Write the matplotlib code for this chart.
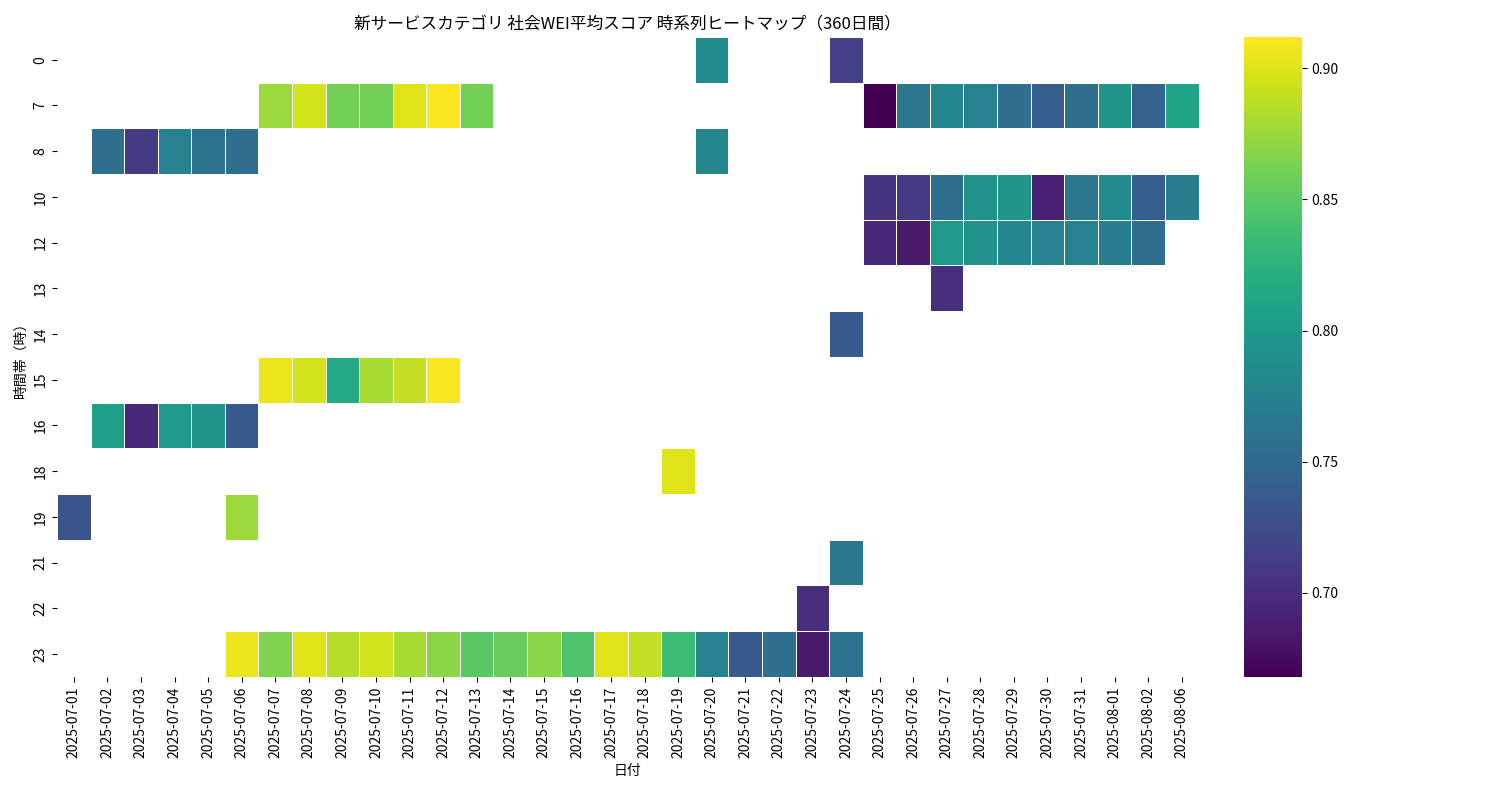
import numpy as np
import pandas as pd
import matplotlib
matplotlib.use("Agg")
import matplotlib.pyplot as plt
import seaborn as sns

plt.rcParams["font.family"] = "Noto Sans CJK JP"

dates = [f"2025-07-{d:02d}" for d in range(1, 32)] + ["2025-08-01", "2025-08-02", "2025-08-06"]
hours = [0, 7, 8, 10, 12, 13, 14, 15, 16, 18, 19, 21, 22, 23]

cells = {
    0: {"2025-07-20": 0.785, "2025-07-24": 0.715},
    7: {"2025-07-07": 0.875, "2025-07-08": 0.895, "2025-07-09": 0.86, "2025-07-10": 0.86,
        "2025-07-11": 0.90, "2025-07-12": 0.91, "2025-07-13": 0.86, "2025-07-25": 0.668,
        "2025-07-26": 0.765, "2025-07-27": 0.78, "2025-07-28": 0.775, "2025-07-29": 0.755,
        "2025-07-30": 0.74, "2025-07-31": 0.755, "2025-08-01": 0.795, "2025-08-02": 0.745,
        "2025-08-06": 0.81},
    8: {"2025-07-02": 0.755, "2025-07-03": 0.71, "2025-07-04": 0.775, "2025-07-05": 0.76,
        "2025-07-06": 0.755, "2025-07-20": 0.78},
    10: {"2025-07-25": 0.705, "2025-07-26": 0.71, "2025-07-27": 0.755, "2025-07-28": 0.79,
         "2025-07-29": 0.795, "2025-07-30": 0.69, "2025-07-31": 0.765, "2025-08-01": 0.785,
         "2025-08-02": 0.74, "2025-08-06": 0.77},
    12: {"2025-07-25": 0.695, "2025-07-26": 0.685, "2025-07-27": 0.80, "2025-07-28": 0.79,
         "2025-07-29": 0.78, "2025-07-30": 0.775, "2025-07-31": 0.775, "2025-08-01": 0.77,
         "2025-08-02": 0.755},
    13: {"2025-07-27": 0.70},
    14: {"2025-07-24": 0.735},
    15: {"2025-07-07": 0.905, "2025-07-08": 0.895, "2025-07-09": 0.815, "2025-07-10": 0.88,
         "2025-07-11": 0.89, "2025-07-12": 0.91},
    16: {"2025-07-02": 0.805, "2025-07-03": 0.695, "2025-07-04": 0.80, "2025-07-05": 0.795,
         "2025-07-06": 0.735},
    18: {"2025-07-19": 0.90},
    19: {"2025-07-01": 0.73, "2025-07-06": 0.875},
    21: {"2025-07-24": 0.765},
    22: {"2025-07-23": 0.70},
    23: {"2025-07-06": 0.905, "2025-07-07": 0.865, "2025-07-08": 0.90, "2025-07-09": 0.885,
         "2025-07-10": 0.895, "2025-07-11": 0.88, "2025-07-12": 0.87, "2025-07-13": 0.85,
         "2025-07-14": 0.855, "2025-07-15": 0.87, "2025-07-16": 0.845, "2025-07-17": 0.90,
         "2025-07-18": 0.89, "2025-07-19": 0.835, "2025-07-20": 0.775, "2025-07-21": 0.735,
         "2025-07-22": 0.755, "2025-07-23": 0.685, "2025-07-24": 0.76},
}

df = pd.DataFrame(np.nan, index=hours, columns=dates)
for h, row in cells.items():
    for d, v in row.items():
        df.loc[h, d] = v

fig = plt.figure(figsize=(15, 8), dpi=100)
ax = fig.add_axes([0.038, 0.154, 0.761, 0.8])
cax = fig.add_axes([0.829, 0.154, 0.039, 0.8])
sns.heatmap(df, ax=ax, cbar_ax=cax, cmap="viridis", linewidths=0.5, linecolor="white",
            vmin=0.668, vmax=0.912)
ax.set_title("新サービスカテゴリ 社会WEI平均スコア 時系列ヒートマップ（360日間）", fontsize=12)
ax.set_xlabel("日付", fontsize=10)
ax.set_ylabel("時間帯（時）", fontsize=10)
ax.set_xticklabels(dates, rotation=90, fontsize=10)
ax.set_yticklabels(hours, rotation=90, fontsize=10)
cax.tick_params(labelsize=10)
cax.set_yticks([0.70, 0.75, 0.80, 0.85, 0.90])
cax.set_yticklabels(["0.70", "0.75", "0.80", "0.85", "0.90"])
fig.savefig("out.png", dpi=100)
